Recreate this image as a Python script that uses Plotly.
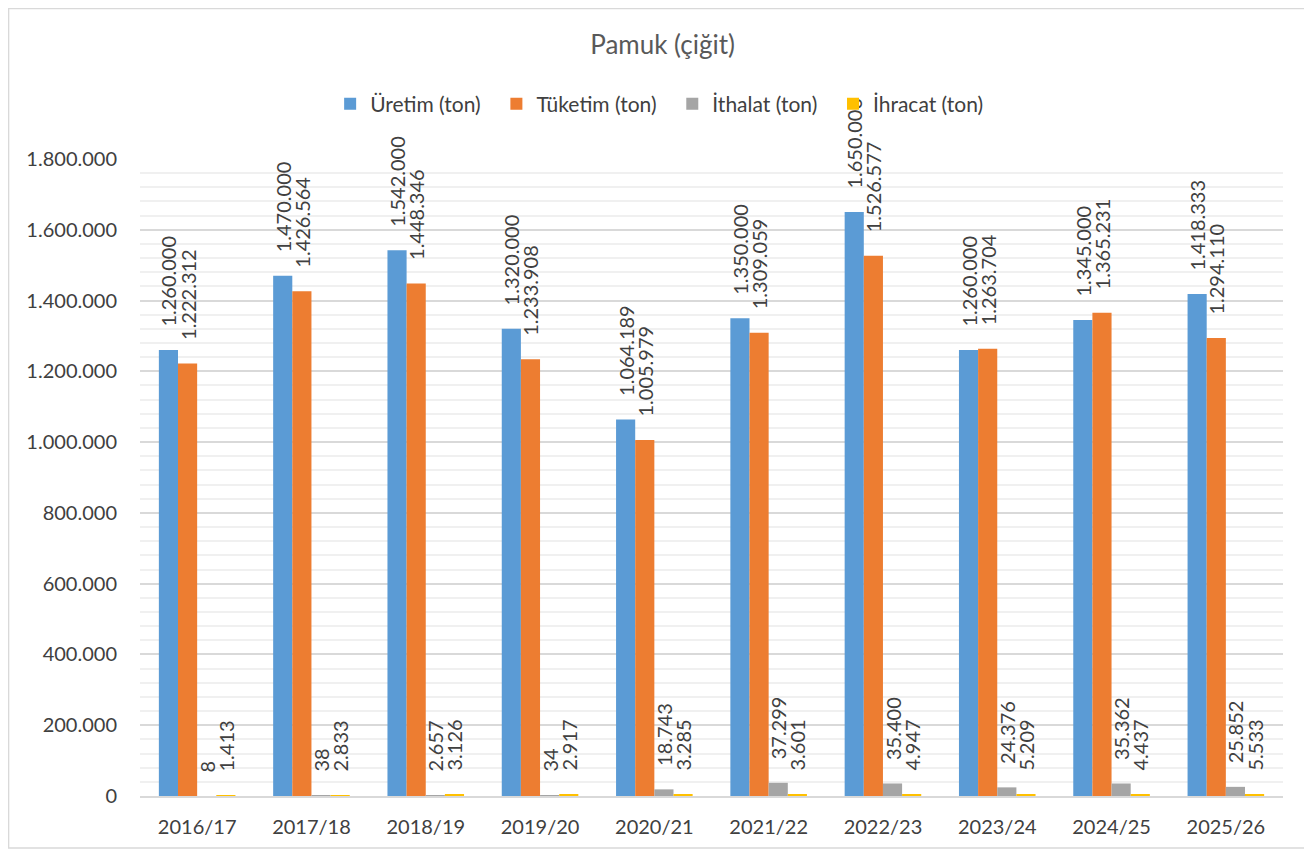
import plotly.graph_objects as go

# Pamuk (çiğit) arz-talep verileri
sezonlar = ["2016/17", "2017/18", "2018/19", "2019/20", "2020/21",
            "2021/22", "2022/23", "2023/24", "2024/25", "2025/26"]
uretim = [1260000, 1470000, 1542000, 1320000, 1064189, 1350000, 1650000, 1260000, 1345000, 1418333]
tuketim = [1222312, 1426564, 1448346, 1233908, 1005979, 1309059, 1526577, 1263704, 1365231, 1294110]
ithalat = [8, 38, 2657, 34, 18743, 37299, 35400, 24376, 35362, 25852]
ihracat = [1413, 2833, 3126, 2917, 3285, 3601, 4947, 5209, 4437, 5533]

series = [
    ("Üretim (ton)", uretim, "#5B9BD5"),
    ("Tüketim (ton)", tuketim, "#ED7D31"),
    ("İthalat (ton)", ithalat, "#A5A5A5"),
    ("İhracat (ton)", ihracat, "#FFC000"),
]

PAD = "\u00a0" * 4  # Excel leaves a gap between bar end and label


def fmt(v):
    return PAD + f"{v:,}".replace(",", ".")


FONT = "Lato, 'Open Sans', sans-serif"

fig = go.Figure()
for name, vals, color in series:
    fig.add_trace(go.Bar(
        name=name + "\u00a0\u00a0",
        x=sezonlar,
        y=vals,
        marker=dict(color=color, line=dict(width=0)),
        text=[fmt(v) for v in vals],
        textposition="outside",
        textangle=-90,
        constraintext="none",
        cliponaxis=False,
        textfont=dict(size=20, color="#404040", family=FONT),
    ))

# page body has an 8px margin, so the figure starts at (8, 8)
fig.update_layout(
    width=1304,
    height=847,
    barmode="group",
    bargap=0.33,
    bargroupgap=0,
    separators=",.",
    paper_bgcolor="white",
    plot_bgcolor="white",
    font=dict(family=FONT, color="#595959", size=20),
    title=dict(
        text="Pamuk (çiğit)",
        x=0.502,
        xanchor="center",
        y=1 - 37 / 847,
        yanchor="middle",
        font=dict(size=26, color="#595959", family=FONT),
    ),
    legend=dict(
        orientation="h",
        x=0.459,
        xanchor="center",
        y=1.086,
        yanchor="middle",
        bgcolor="rgba(0,0,0,0)",
        font=dict(size=21, color="#404040", family=FONT),
        traceorder="normal",
        itemwidth=30,
    ),
    margin=dict(l=132, r=29, t=151, b=59),
    xaxis=dict(
        showgrid=False,
        showline=True,
        linecolor="#D9D9D9",
        linewidth=1.5,
        ticks="",
        ticklabelstandoff=12,
        tickfont=dict(size=20, color="#404040"),
    ),
    yaxis=dict(
        range=[0, 1800000],
        dtick=200000,
        tickformat=",d",
        showgrid=True,
        gridcolor="#D9D9D9",
        gridwidth=1.5,
        zeroline=False,
        showline=False,
        ticks="",
        ticklabelstandoff=22,
        tickfont=dict(size=20, color="#404040"),
        minor=dict(dtick=40000, showgrid=True, gridcolor="#F0F0F0", gridwidth=1.5),
    ),
    shapes=[dict(
        type="rect", xref="paper", yref="paper",
        x0=-0.1150, x1=1.0192, y0=-0.0816, y1=1.2363,
        line=dict(color="#D9D9D9", width=1.5),
        fillcolor="rgba(0,0,0,0)",
        layer="below",
    )],
)

fig.write_html("out.html")
